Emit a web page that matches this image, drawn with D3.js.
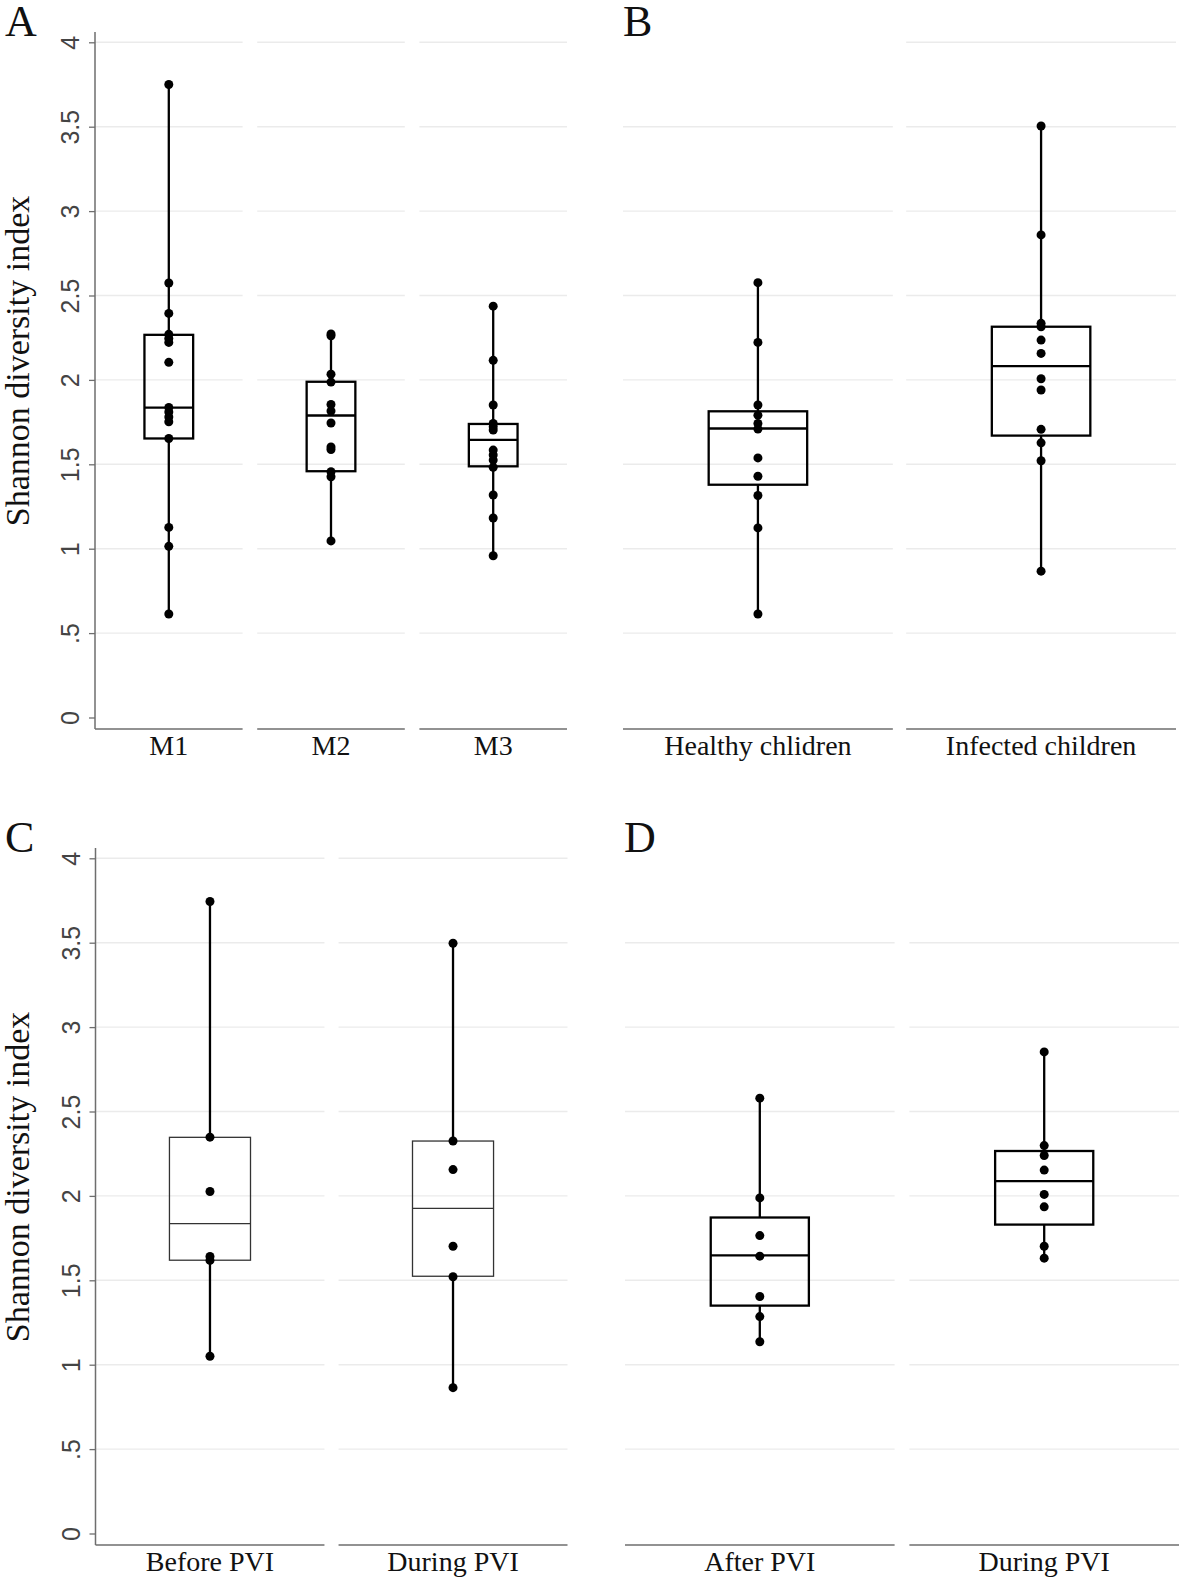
<!DOCTYPE html>
<html>
<head>
<meta charset="utf-8">
<script src="https://cdn.jsdelivr.net/npm/d3@7"></script>
<style>
  body { margin: 0; background: #fff; }
  svg { display: block; }
</style>
</head>
<body>
<script>

const ticks = [0, .5, 1, 1.5, 2, 2.5, 3, 3.5, 4]
const tickLabels = ['0', '.5', '1', '1.5', '2', '2.5', '3', '3.5', '4']
const yTitle = 'Shannon diversity index'

// panel A
const groupsA = ['M1', 'M2', 'M3']
const pointsA = [
    [3.75, 2.574, 2.394, 2.27, 2.245, 2.222, 2.104, 1.837, 1.81, 1.78, 1.752, 1.653, 1.126, 1.014, 0.613],
    [2.272, 2.261, 2.034, 1.987, 1.854, 1.816, 1.745, 1.603, 1.588, 1.456, 1.426, 1.046],
    [2.437, 2.116, 1.851, 1.742, 1.722, 1.703, 1.584, 1.555, 1.525, 1.482, 1.318, 1.182, 0.958]
]
const boxesA = [[1.653, 1.836, 2.267], [1.459, 1.789, 1.989], [1.488, 1.645, 1.739]]

// panel B
const groupsB = ['Healthy chlidren', 'Infected children']
const pointsB = [
    [2.576, 2.222, 1.851, 1.791, 1.742, 1.709, 1.538, 1.429, 1.315, 1.123, 0.613],
    [3.504, 2.859, 2.335, 2.315, 2.236, 2.157, 2.007, 1.940, 1.707, 1.627, 1.521, 0.867]
]
const boxesB = [[1.379, 1.712, 1.814], [1.670, 2.082, 2.315]]

// panel C
const groupsC = ['Before PVI', 'During PVI']
const pointsC = [
    [3.744, 2.348, 2.026, 1.641, 1.618, 1.050],
    [3.497, 2.325, 2.156, 1.702, 1.521, 0.864]
]
const boxesC = [[1.619, 1.836, 2.347], [1.524, 1.926, 2.325]]

// panel D
const groupsD = ['After PVI', 'During PVI']
const pointsD = [
    [2.579, 1.988, 1.765, 1.643, 1.404, 1.285, 1.136],
    [2.853, 2.298, 2.239, 2.153, 2.009, 1.935, 1.702, 1.631]
]
const boxesD = [[1.350, 1.648, 1.872], [1.830, 2.087, 2.266]]

const panels = [
    { letter: 'A', lx: 5, groups: groupsA, points: pointsA, boxes: boxesA, x0: 95, x1: 567, pad: .09, dy: 0, yAxis: true, boxW: .33, thin: false, gridTop: [true, true, true] },
    { letter: 'B', lx: 623, groups: groupsB, points: pointsB, boxes: boxesB, x0: 623, x1: 1176, pad: .047, dy: 0, yAxis: false, boxW: .365, thin: false, gridTop: [false, true] },
    { letter: 'C', lx: 5, groups: groupsC, points: pointsC, boxes: boxesC, x0: 95.5, x1: 567.5, pad: .058, dy: 816, yAxis: true, boxW: .354, thin: true, gridTop: [true, true] },
    { letter: 'D', lx: 624, groups: groupsD, points: pointsD, boxes: boxesD, x0: 625, x1: 1179, pad: .052, dy: 816, yAxis: false, boxW: .364, thin: false, gridTop: [false, false] }
]

const serif = '"Liberation Serif", "Times New Roman", serif'
const sans = '"Liberation Sans", Arial, sans-serif'

const svg = d3.select('body').append('svg')
    .attr('width', 1181)
    .attr('height', 1580)

panels.forEach(p => {
    const g = svg.append('g')
    const y = d3.scaleLinear().domain([0, 4]).range([717.5 + p.dy, 42.3 + p.dy])
    const x = d3.scaleBand().domain(p.groups).range([p.x0, p.x1]).paddingInner(p.pad)
    const axisY = 729 + p.dy

    // panel letter
    g.append('text')
        .attr('x', p.lx)
        .attr('y', 35.5 + p.dy)
        .attr('font-family', serif)
        .attr('font-size', 44)
        .attr('fill', '#111')
        .text(p.letter)

    p.groups.forEach((grp, i) => {
        const left = x(grp), right = x(grp) + x.bandwidth()
        const cx = left + x.bandwidth() / 2
        const bw = x.bandwidth() * p.boxW
        const [q1, med, q3] = p.boxes[i]
        const pts = p.points[i]

        g.selectAll(null)
            .data(ticks.filter(t => t > 0 && (t < 4 || p.gridTop[i])))
            .enter().append('line')
            .attr('x1', left).attr('x2', right)
            .attr('y1', d => y(d)).attr('y2', d => y(d))
            .attr('stroke', '#ebebeb')
            .attr('stroke-width', 1.4)

        g.append('line')
            .attr('x1', left).attr('x2', right)
            .attr('y1', axisY).attr('y2', axisY)
            .attr('stroke', '#6e6e6e')
            .attr('stroke-width', 1.5)

        // whiskers
        g.selectAll(null)
            .data([[q3, d3.max(pts)], [q1, d3.min(pts)]])
            .enter().append('line')
            .attr('x1', cx).attr('x2', cx)
            .attr('y1', d => y(d[0])).attr('y2', d => y(d[1]))
            .attr('stroke', '#000')
            .attr('stroke-width', 2.3)

        const boxStroke = p.thin ? '#333' : '#000'
        const boxWidth = p.thin ? 1.3 : 2.3
        g.append('rect')
            .attr('x', cx - bw / 2)
            .attr('y', y(q3))
            .attr('width', bw)
            .attr('height', y(q1) - y(q3))
            .attr('fill', 'none')
            .attr('stroke', boxStroke)
            .attr('stroke-width', boxWidth)
        g.append('line')
            .attr('x1', cx - bw / 2).attr('x2', cx + bw / 2)
            .attr('y1', y(med)).attr('y2', y(med))
            .attr('stroke', boxStroke)
            .attr('stroke-width', boxWidth)

        g.selectAll(null)
            .data(pts)
            .enter().append('circle')
            .attr('cx', cx)
            .attr('cy', d => y(d))
            .attr('r', 4.5)
            .attr('fill', '#000')
    })

    // category labels
    const xa = g.append('g')
        .attr('transform', `translate(0,${axisY})`)
        .call(d3.axisBottom(x).tickSize(0).tickPadding(6))
    xa.select('.domain').remove()
    xa.selectAll('text')
        .attr('font-family', serif)
        .attr('font-size', 28)
        .attr('fill', '#111')

    if (p.yAxis) {
        g.append('line')
            .attr('x1', p.x0).attr('x2', p.x0)
            .attr('y1', 32 + p.dy).attr('y2', axisY)
            .attr('stroke', '#6e6e6e')
            .attr('stroke-width', 1.5)

        const ya = g.append('g')
            .attr('transform', `translate(${p.x0},0)`)
            .call(d3.axisLeft(y).tickValues(ticks).tickFormat((d, i) => tickLabels[i]).tickSize(6))
        ya.select('.domain').remove()
        ya.selectAll('.tick line').attr('stroke', '#6e6e6e').attr('stroke-width', 1.3)
        ya.selectAll('text')
            .attr('x', null).attr('dy', null)
            .attr('transform', 'translate(-16,0) rotate(-90)')
            .attr('text-anchor', 'middle')
            .attr('font-family', sans)
            .attr('font-size', 25)
            .attr('fill', '#444')

        g.append('text')
            .attr('transform', `translate(29,${361 + p.dy}) rotate(-90)`)
            .attr('text-anchor', 'middle')
            .attr('font-family', serif)
            .attr('font-size', 34)
            .attr('fill', '#111')
            .text(yTitle)
    }
})

</script>
</body>
</html>
